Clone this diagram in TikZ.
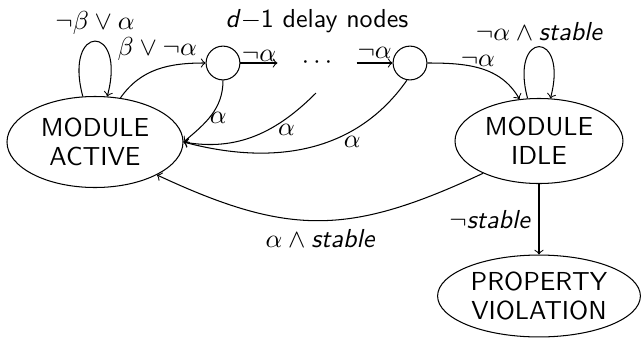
\documentclass[tikz,border=0pt]{standalone}
\usetikzlibrary{shapes.geometric,arrows}
\renewcommand{\familydefault}{\sfdefault}
\begin{document}
\begin{tikzpicture}[x=0.3846pt,y=0.3846pt,
  >=to,
  every node/.style={font=\sffamily},
  state/.style={draw,ellipse,align=center,inner sep=0pt,
    font=\sffamily\fontsize{10}{11.2}\selectfont},
  delay/.style={draw,circle,minimum size=13pt,inner sep=0pt},
  trans/.style={->}]
\useasboundingbox (0,0) rectangle (641,-338);

% states
\node[state,minimum width=67.7pt,minimum height=35pt] (active) at (95,-142) {MODULE\\ACTIVE};
\node[state,minimum width=64.6pt,minimum height=32.7pt] (idle) at (539,-141) {MODULE\\IDLE};
\node[state,minimum width=78pt,minimum height=31.5pt] (prop) at (539,-296) {PROPERTY\\VIOLATION};

% chain of delay nodes
\node[delay] (d1) at (223,-63) {};
\node[delay] (d2) at (410,-63) {};
\node[minimum width=30pt,inner sep=0pt] (dots) at (317,-63) {$\cdots$};
\coordinate (tail) at (316,-93);
\node (title) at (317,-21) {\textit{d}$-$1 delay nodes};

% transitions
\draw[trans] (active.105) to[out=105,in=75,looseness=8] node[above,inner sep=2.5pt] {$\neg\beta\vee\alpha$} (active.75);
\draw[trans] (active.60) to[out=55,in=180] node[above] {$\beta\vee\neg\alpha$} (d1);
\draw[trans] (d1) -- node[above,inner sep=0.5pt] {$\neg\alpha$} (dots);
\draw[trans] (dots) -- node[above,inner sep=1.5pt] {$\neg\alpha$} (d2);
\draw[trans] (d2) to[out=0,in=120] node[above,pos=0.47,inner sep=0.3pt] {$\neg\alpha$} (idle.115);
\draw[trans] (idle.105) to[out=105,in=75,looseness=8] node[above,inner sep=2pt] {$\neg\alpha\wedge\textit{stable}$} (idle.75);
\draw[trans] (d1.south) to[out=-90,in=40] node[right,pos=0.55,inner sep=0pt] {$\alpha$} (active.east);
\draw[trans] (tail) to[out=225,in=-10] node[below,pos=0.25,inner sep=2pt] {$\alpha$} (active.east);
\draw[trans] (d2.260) to[out=235,in=-15] node[below,pos=0.3,inner sep=2pt] {$\alpha$} (active.east);
\draw[trans] (idle.210) to[out=205,in=-25,looseness=1.15] node[below] {$\alpha\wedge\textit{stable}$} (active.-28);
\draw[trans] (idle) -- node[left] {$\neg\textit{stable}$} (prop);
\end{tikzpicture}
\end{document}
